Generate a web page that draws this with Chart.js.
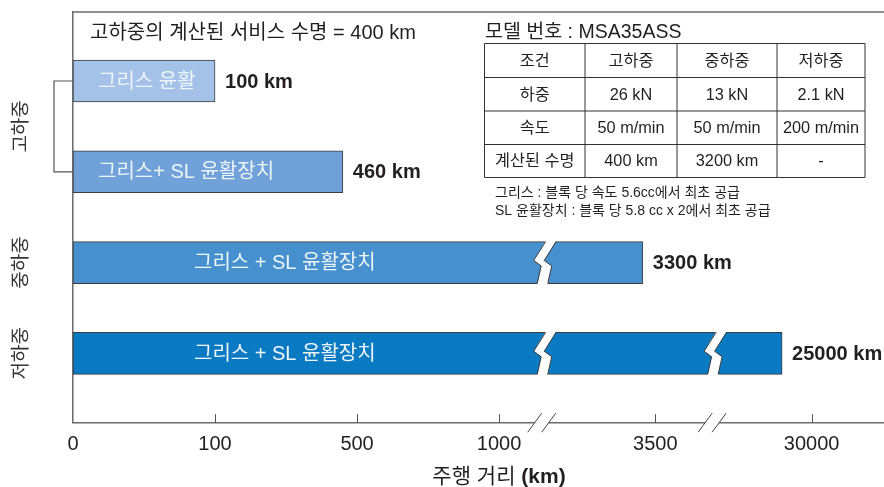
<!DOCTYPE html>
<html lang="ko">
<head>
<meta charset="utf-8">
<script src="https://cdn.jsdelivr.net/npm/chart.js@4/dist/chart.umd.min.js"></script>
<style>
  html, body { margin: 0; padding: 0; background: #fff; }
</style>
</head>
<body>
<canvas id="chart" width="884" height="487"></canvas>
<script>
// 윤활 방식별 주행 거리
const barLabels = ['그리스 윤활', '그리스+ SL 윤활장치', '그리스 + SL 윤활장치', '그리스 + SL 윤활장치'];
const distanceKm = [100, 460, 3300, 25000];
const loadGroups = ['고하중', '중하중', '저하중'];
const groupBars = [[0, 1], [2], [3]];

// 끊어진 x축 눈금
const tickKm = [0, 100, 500, 1000, 3500, 30000];
const tickLabels = ['0', '100', '500', '1000', '3500', '30000'];

// 조건 표
const summaryText = '고하중의 계산된 서비스 수명 = 400 km';
const modelTitle = '모델 번호 : MSA35ASS';
const tableHeader = ['조건', '고하중', '중하중', '저하중'];
const tableRows = [
    ['하중', '26 kN', '13 kN', '2.1 kN'],
    ['속도', '50 m/min', '50 m/min', '200 m/min'],
    ['계산된 수명', '400 km', '3200 km', '-']
];
const notes = [
    '그리스 : 블록 당 속도 5.6cc에서 최초 공급',
    'SL 윤활장치 : 블록 당 5.8 cc x 2에서 최초 공급'
];

// axis units: one unit per segment, segments with a break get a bit more room
const axisStops = [0, 1, 2, 3, 4.1, 5.2];
const axisBreaks = [3.3, 4.5];

const barColors = ['#a4c2e8', '#70a1d9', '#4790ce', '#0a7bc2'];
const barLabelInset = [25, 25, 121, 121];
const textColor = '#231f20';
const lineColor = '#6b6b6b';

function font(size, weight) {
    return (weight || 'normal') + ' ' + size + 'px "Liberation Sans", "Noto Sans CJK KR", sans-serif';
}

// km -> position on the broken axis
function toAxis(km) {
    for (let i = 0; i < tickKm.length - 1; i++) {
        if (km <= tickKm[i + 1]) {
            const f = (km - tickKm[i]) / (tickKm[i + 1] - tickKm[i]);
            return axisStops[i] + f * (axisStops[i + 1] - axisStops[i]);
        }
    }
    return axisStops[axisStops.length - 1];
}

function zigzag(ctx, cx, top, bottom) {
    const h = bottom - top;
    const left = [[4, 0], [-8, 0.45], [-0.5, 0.58], [-4.5, 1]];
    const right = left.map(p => [p[0] + 10.5, p[1]]);
    ctx.beginPath();
    ctx.moveTo(cx + left[0][0], top - 1);
    left.slice(1, 3).forEach(p => ctx.lineTo(cx + p[0], top + p[1] * h));
    ctx.lineTo(cx + left[3][0], bottom + 1);
    ctx.lineTo(cx + right[3][0], bottom + 1);
    right.slice(1, 3).reverse().forEach(p => ctx.lineTo(cx + p[0], top + p[1] * h));
    ctx.lineTo(cx + right[0][0], top - 1);
    ctx.closePath();
    ctx.fillStyle = '#fff';
    ctx.fill();
    ctx.strokeStyle = '#3d3d3d';
    ctx.lineWidth = 1;
    [left, right].forEach(edge => {
        ctx.beginPath();
        edge.forEach((p, k) => {
            const y = top + p[1] * h;
            k ? ctx.lineTo(cx + p[0], y) : ctx.moveTo(cx + p[0], y);
        });
        ctx.stroke();
    });
}

const extras = {
    id: 'extras',
    afterDatasetsDraw(chart) {
        const ctx = chart.ctx;
        const area = chart.chartArea;
        const xs = chart.scales.x;
        const bars = chart.getDatasetMeta(0).data;
        ctx.save();

        // bar breaks, labels inside and after each bar
        bars.forEach((bar, i) => {
            const top = bar.y - bar.height / 2;
            const bottom = bar.y + bar.height / 2;
            axisBreaks.forEach(b => {
                const px = xs.getPixelForValue(b);
                if (bar.x > px + 15) zigzag(ctx, px, top, bottom);
            });
            ctx.textBaseline = 'middle';
            ctx.textAlign = 'left';
            ctx.font = font(20);
            ctx.fillStyle = '#eef4fb';
            ctx.fillText(barLabels[i], bar.base + barLabelInset[i], bar.y + 1);
            ctx.font = font(20, 'bold');
            ctx.fillStyle = textColor;
            ctx.fillText(distanceKm[i] + ' km', bar.x + 10, bar.y + 1);
        });

        // load groups on the left, rotated
        ctx.font = font(19);
        ctx.fillStyle = '#333';
        ctx.textAlign = 'center';
        groupBars.forEach((idx, g) => {
            const y = idx.reduce((s, i) => s + bars[i].y, 0) / idx.length;
            ctx.save();
            ctx.translate(22, y);
            ctx.rotate(-Math.PI / 2);
            ctx.fillText(loadGroups[g], 0, 0);
            ctx.restore();
        });

        // bracket joining the two high-load bars
        ctx.strokeStyle = '#555';
        ctx.lineWidth = 1.2;
        ctx.beginPath();
        ctx.moveTo(area.left, bars[0].y);
        ctx.lineTo(54, bars[0].y);
        ctx.lineTo(54, bars[1].y);
        ctx.lineTo(area.left, bars[1].y);
        ctx.stroke();

        // frame top line
        ctx.strokeStyle = lineColor;
        ctx.lineWidth = 1.5;
        ctx.beginPath();
        ctx.moveTo(area.left, area.top);
        ctx.lineTo(chart.width, area.top);
        ctx.stroke();

        // inward tick marks
        ctx.lineWidth = 1;
        ctx.strokeStyle = '#555';
        axisStops.slice(1).forEach(v => {
            const px = Math.round(xs.getPixelForValue(v)) + 0.5;
            ctx.beginPath();
            ctx.moveTo(px, area.bottom);
            ctx.lineTo(px, area.bottom - 8.5);
            ctx.stroke();
        });

        // axis break marks
        axisBreaks.forEach(b => {
            const px = xs.getPixelForValue(b);
            ctx.fillStyle = '#fff';
            ctx.fillRect(px - 7, area.bottom - 2, 14, 4);
            ctx.strokeStyle = '#444';
            [-7, 7].forEach(dx => {
                ctx.beginPath();
                ctx.moveTo(px + dx - 7, area.bottom + 9.5);
                ctx.lineTo(px + dx + 7, area.bottom - 9.5);
                ctx.stroke();
            });
        });

        // axis title with bold unit
        const t1 = '주행 거리 ', t2 = '(km)';
        ctx.font = font(21);
        const w1 = ctx.measureText(t1).width;
        ctx.font = font(21, 'bold');
        const w2 = ctx.measureText(t2).width;
        let tx = 499 - (w1 + w2) / 2;
        ctx.textAlign = 'left';
        ctx.fillStyle = textColor;
        ctx.font = font(21);
        ctx.fillText(t1, tx, 477);
        ctx.font = font(21, 'bold');
        ctx.fillText(t2, tx + w1, 477);

        // summary and model title
        ctx.font = font(20);
        ctx.fillText(summaryText, 90, 33);
        ctx.font = font(19.5);
        ctx.fillText(modelTitle, 485, 33);

        // condition table
        const colX = [484.5, 585, 677, 777, 865];
        const rowY = [43.5, 77.5, 111, 144.5, 177.5];
        ctx.strokeStyle = '#333';
        ctx.lineWidth = 1;
        rowY.forEach(y => {
            ctx.beginPath();
            ctx.moveTo(colX[0], y);
            ctx.lineTo(colX[4], y);
            ctx.stroke();
        });
        colX.forEach(x => {
            ctx.beginPath();
            ctx.moveTo(x, rowY[0]);
            ctx.lineTo(x, rowY[4]);
            ctx.stroke();
        });
        ctx.font = font(16.3);
        ctx.textAlign = 'center';
        [tableHeader].concat(tableRows).forEach((row, r) => {
            const y = (rowY[r] + rowY[r + 1]) / 2 + 1;
            row.forEach((cell, c) => {
                ctx.fillText(cell, (colX[c] + colX[c + 1]) / 2, y);
            });
        });

        // notes under the table
        ctx.font = font(14);
        ctx.textAlign = 'left';
        notes.forEach((n, k) => ctx.fillText(n, 495, 193 + k * 18.5));

        ctx.restore();
    }
};

new Chart(document.getElementById('chart'), {
    type: 'bar',
    data: {
        datasets: [{
            data: distanceKm.map((km, i) => ({ x: toAxis(km), y: i })),
            backgroundColor: barColors,
            borderColor: '#3d3d3d',
            borderWidth: 1,
            borderSkipped: false,
            barThickness: 42
        }]
    },
    options: {
        indexAxis: 'y',
        responsive: false,
        animation: false,
        devicePixelRatio: 1,
        layout: { padding: { top: 12, left: 0, right: 0, bottom: 0 } },
        plugins: {
            legend: { display: false },
            tooltip: { enabled: false }
        },
        scales: {
            x: {
                type: 'linear',
                min: 0,
                max: 5.71,
                offset: false,
                grid: { display: false, drawTicks: false },
                border: { color: lineColor, width: 1.5 },
                ticks: {
                    autoSkip: false,
                    maxRotation: 0,
                    padding: 10,
                    color: textColor,
                    font: { size: 20, family: '"Liberation Sans", sans-serif' },
                    callback: (value, index) => tickLabels[index]
                },
                afterBuildTicks: scale => {
                    scale.ticks = axisStops.map(v => ({ value: v }));
                },
                afterFit: scale => { scale.height = 64.3; }
            },
            y: {
                type: 'linear',
                reverse: true,
                min: -0.76,
                max: 3.764,
                offset: false,
                grid: { display: false, drawTicks: false },
                border: { color: lineColor, width: 1.5 },
                ticks: { display: false },
                afterFit: scale => { scale.width = 73; }
            }
        }
    },
    plugins: [extras]
});
</script>
</body>
</html>
